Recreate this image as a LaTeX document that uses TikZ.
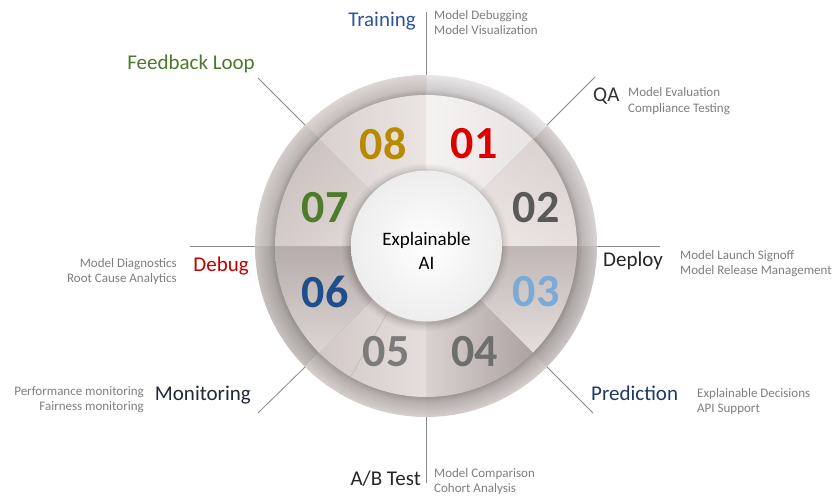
\documentclass[tikz,border=0pt]{standalone}
\usepackage{fontspec}
\setmainfont{Carlito}
\usetikzlibrary{calc}

\definecolor{linegray}{HTML}{8A8A8A}
\definecolor{descgray}{HTML}{7F7F7F}
\definecolor{trainblue}{HTML}{2E5597}
\definecolor{fbgreen}{HTML}{4A7A2C}
\definecolor{debugred}{HTML}{C00000}
\definecolor{prednavy}{HTML}{203864}
\definecolor{darktext}{HTML}{262626}
\definecolor{montext}{HTML}{222A35}
\definecolor{qatext}{HTML}{333333}
\definecolor{seamgray}{HTML}{BDB5B3}
\definecolor{hubedge}{HTML}{EDEDED}
\definecolor{nA}{HTML}{DC0000}
\definecolor{nB}{HTML}{595959}
\definecolor{nC}{HTML}{7AAAD8}
\definecolor{nD}{HTML}{6E6E6E}
\definecolor{nE}{HTML}{7B7B7B}
\definecolor{nF}{HTML}{1F4E8C}
\definecolor{nG}{HTML}{4D7C2A}
\definecolor{nH}{HTML}{B88A00}

% two-line text blocks whose baseline is the first line
\newcommand\twolinesL[2]{\vtop{\halign{##\hfil\cr #1\cr #2\cr}}}
\newcommand\twolinesR[2]{\vtop{\halign{\hfil##\cr #1\cr #2\cr}}}
\newcommand\twolinesC[2]{\vtop{\halign{\hfil##\hfil\cr #1\cr #2\cr}}}

% one eighth of the outer ring, built from concentric bands
% (dark inner edge, lighter body, light outer rim)
\newcommand\ringpiece[5]{%
  \definecolor{ringin}{HTML}{#3}\definecolor{ringmid}{HTML}{#4}\definecolor{ringout}{HTML}{#5}%
  \begin{scope}
    \clip (c) -- ($(c)+(#1:185)$) arc[start angle=#1, end angle=#2, radius=185] -- cycle;
    \foreach \k in {0,...,20}{%
      \pgfmathsetmacro\rr{171-\k}%
      \ifnum\k<14
        \pgfmathsetmacro\pp{100*\k/14}%
        \fill[ringmid!\pp!ringout] (c) circle[radius=\rr];
      \else
        \pgfmathsetmacro\pp{100*(\k-14)/6}%
        \fill[ringin!\pp!ringmid] (c) circle[radius=\rr];
      \fi}
  \end{scope}}

% one numbered wedge, linearly shaded
\newcommand\wedgepiece[5]{%
  \definecolor{wdark}{HTML}{#3}\definecolor{wlight}{HTML}{#4}%
  \shade[top color=wdark, bottom color=wlight, shading angle=#5]
    (c) -- ($(c)+(#1:151)$) arc[start angle=#1, end angle=#2, radius=151] -- cycle;}

\begin{document}
\begin{tikzpicture}[x=1pt, y=1pt,
  conn/.style={draw=linegray, line width=0.8pt},
  seamline/.style={draw=seamgray, line width=0.5pt},
  numlbl/.style={font=\fontsize{46}{46}\selectfont\bfseries, inner sep=0pt},
  stagelbl/.style={font=\fontsize{21}{25}\selectfont, inner sep=0pt},
  desclbl/.style={font=\fontsize{13}{15.5}\selectfont, text=descgray, inner sep=0pt},
  hubtextstyle/.style={font=\fontsize{19}{23.3}\selectfont, text=black, inner sep=0pt}]

\useasboundingbox (0,0) rectangle (835,499);
\fill[white] (0,0) rectangle (835,499);

\coordinate (c) at (426,253);

% outer ring
\ringpiece{0}{45}{9E9897}{BEB9B8}{D8D4D3}
\ringpiece{45}{90}{B0AEAF}{CFCDCE}{E8E6E7}
\ringpiece{90}{135}{A8A0A0}{C8C0BF}{DED7D6}
\ringpiece{135}{180}{9C9695}{BCB6B5}{D4CECD}
\ringpiece{180}{225}{958F8D}{ACA6A4}{C6C0BE}
\ringpiece{225}{270}{9E9694}{B8B0AE}{D6CFCD}
\ringpiece{270}{315}{9A9290}{B6AEAC}{D4CDCB}
\ringpiece{315}{360}{948E8C}{AEA8A7}{CAC5C4}
\node[circle, minimum size=342, inner sep=0pt, outer sep=0pt] (ring) at (c) {};

% wedges
\wedgepiece{45}{90}{E9E4E4}{F5F2F2}{-90}
\wedgepiece{0}{45}{DBD3D2}{EEE8E7}{-30}
\wedgepiece{-45}{0}{C0B7B5}{E5DEDD}{0}
\wedgepiece{-90}{-45}{ACA3A1}{DAD2D0}{-90}
\wedgepiece{-135}{-90}{D2C9C7}{E5DEDC}{90}
\wedgepiece{-180}{-135}{B6ADAB}{DDD5D3}{0}
\wedgepiece{135}{180}{CCC3C1}{E4DCDA}{45}
\wedgepiece{90}{135}{D9D1CF}{EAE4E2}{90}

% faint seam across wedge 05
\coordinate (seamA) at ($(c)+(-120:76)$);
\coordinate (seamB) at ($(c)+(-120:171)$);
\draw[seamline] (seamA) -- (seamB);

% shadow and hub
\coordinate (hubc) at (426.5,253);
\coordinate (shadc) at (425.5,251.5);
\foreach \r/\o in {84/0.025, 82/0.03, 80/0.035, 78.5/0.04, 77/0.05}
  \fill[black, opacity=\o] (shadc) circle[radius=\r];
\node[circle, minimum size=151, inner sep=0pt, inner color=white, outer color=hubedge] (hub) at (hubc) {};
\node[hubtextstyle, anchor=base] (hubtext) at (426.5,253.3) {\twolinesC{Explainable}{AI}};

% numbers
\node[numlbl, text=nA] (n01) at (474,355.5) {01};
\node[numlbl, text=nB] (n02) at (536,291) {02};
\node[numlbl, text=nC] (n03) at (536,207) {03};
\node[numlbl, text=nD] (n04) at (474.5,147) {04};
\node[numlbl, text=nE] (n05) at (386,147) {05};
\node[numlbl, text=nF] (n06) at (325,207) {06};
\node[numlbl, text=nG] (n07) at (325,291) {07};
\node[numlbl, text=nH] (n08) at (383,355) {08};

% connector free ends
\coordinate (eTrain) at (426,487);
\coordinate (eQA) at (595,422);
\coordinate (eDeploy) at (660,253);
\coordinate (ePred) at (593,86);
\coordinate (eAB) at (426,16);
\coordinate (eMon) at (258,86);
\coordinate (eDebug) at (190,253);
\coordinate (eFb) at (258,421);

\draw[conn] (ring.90) -- (eTrain);
\draw[conn] (ring.45) -- (eQA);
\draw[conn] (ring.0) -- (eDeploy);
\draw[conn] (ring.-45) -- (ePred);
\draw[conn] (ring.-90) -- (eAB);
\draw[conn] (ring.-135) -- (eMon);
\draw[conn] (ring.180) -- (eDebug);
\draw[conn] (ring.135) -- (eFb);

% stage labels
\node[stagelbl, text=trainblue, anchor=base east] (lTrain) at (416,472) {Training};
\node[stagelbl, text=qatext, anchor=base west] (lQA) at (593,397.3) {QA};
\node[stagelbl, text=darktext, anchor=base west] (lDeploy) at (603,233) {Deploy};
\node[stagelbl, text=prednavy, anchor=base west] (lPred) at (591,98.3) {Prediction};
\node[stagelbl, text=darktext, anchor=base east] (lAB) at (421,14) {A/B Test};
\node[stagelbl, text=montext, anchor=base east] (lMon) at (251,98.3) {Monitoring};
\node[stagelbl, text=debugred, anchor=base east] (lDebug) at (249,227.3) {Debug};
\node[stagelbl, text=fbgreen, anchor=base east] (lFb) at (255,429) {Feedback Loop};

% descriptions
\node[desclbl, anchor=base west] (dTrain) at (434,479.5) {\twolinesL{Model Debugging}{Model Visualization}};
\node[desclbl, anchor=base west] (dQA) at (628,402) {\twolinesL{Model Evaluation}{Compliance Testing}};
\node[desclbl, anchor=base west] (dDeploy) at (680,240) {\twolinesL{Model Launch Signoff}{Model Release Management}};
\node[desclbl, anchor=base west] (dPred) at (697,102) {\twolinesL{Explainable Decisions}{API Support}};
\node[desclbl, anchor=base west] (dAB) at (434,22) {\twolinesL{Model Comparison}{Cohort Analysis}};
\node[desclbl, anchor=base east] (dMon) at (144,104) {\twolinesR{Performance monitoring}{Fairness monitoring}};
\node[desclbl, anchor=base east] (dDebug) at (177,232) {\twolinesR{Model Diagnostics}{Root Cause Analytics}};

\end{tikzpicture}
\end{document}
